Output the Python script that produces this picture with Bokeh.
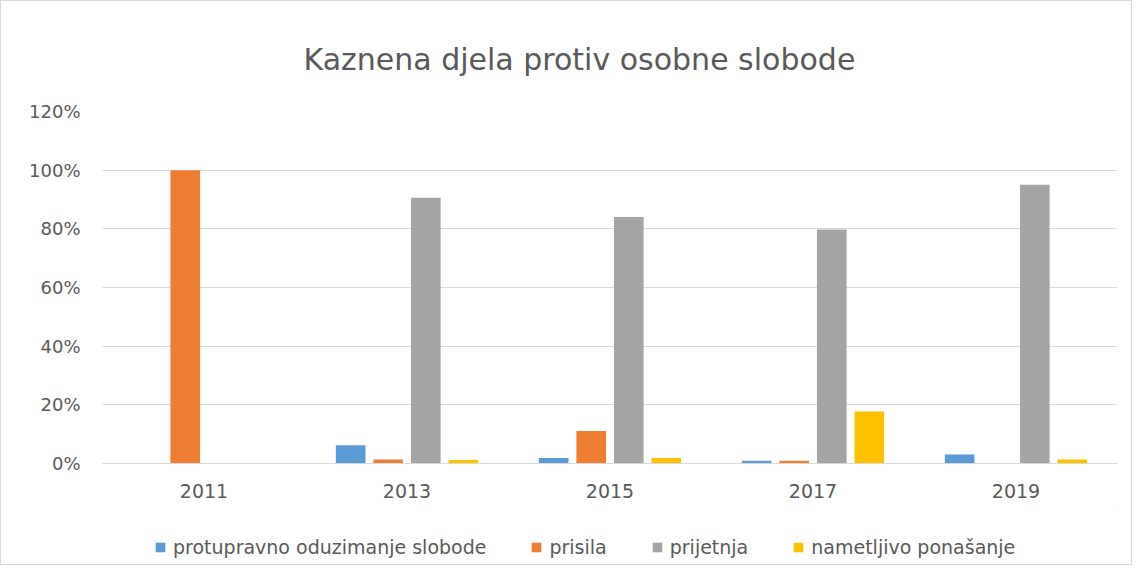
from bokeh.plotting import figure
from bokeh.layouts import column
from bokeh.models import Range1d, FixedTicker, NumeralTickFormatter, Legend, LegendItem, ColumnDataSource
from bokeh.transform import dodge
from bokeh.embed import file_html
from bokeh.resources import INLINE

years = ["2011", "2013", "2015", "2017", "2019"]
series_names = ["protupravno oduzimanje slobode", "prisila", "prijetnja", "nametljivo ponašanje"]
protupravno = [0.0, 0.062, 0.019, 0.009, 0.031]
prisila = [1.0, 0.014, 0.111, 0.009, 0.0]
prijetnja = [0.0, 0.906, 0.840, 0.798, 0.950]
nametljivo = [0.0, 0.012, 0.019, 0.177, 0.014]
colors = ["#5B9BD5", "#ED7D31", "#A5A5A5", "#FFC000"]
y_ticks = [0, 0.2, 0.4, 0.6, 0.8, 1.0, 1.2]

FONT = "DejaVu Sans"
TXT = "#595959"

src = ColumnDataSource(dict(x=years, a=protupravno, b=prisila, c=prijetnja, d=nametljivo))

p = figure(x_range=years, y_range=Range1d(0, 1.2),
           frame_width=1015, frame_height=352,
           output_backend="svg", toolbar_location=None,
           title="Kaznena djela protiv osobne slobode",
           min_border_left=101, min_border_right=14, min_border_top=110, min_border_bottom=45)

p.title.align = "left"
p.title.offset = 201
p.title.text_font = FONT
p.title.text_font_size = "30px"
p.title.text_font_style = "normal"
p.title.text_color = TXT
p.title.standoff = 69

offsets = [-0.2775, -0.0925, 0.0925, 0.2775]
cols = ["a", "b", "c", "d"]
renderers = []
for off, col, color in zip(offsets, cols, colors):
    r = p.vbar(x=dodge("x", off, range=p.x_range), top=col, width=0.146, source=src,
               fill_color=color, line_color=None)
    renderers.append(r)

p.yaxis.ticker = FixedTicker(ticks=y_ticks)
p.yaxis.formatter = NumeralTickFormatter(format="0%")
p.yaxis.axis_line_color = None
p.yaxis.major_tick_line_color = None
p.yaxis.minor_tick_line_color = None
p.yaxis.major_label_text_font = FONT
p.yaxis.major_label_text_font_size = "18px"
p.yaxis.major_label_text_color = TXT
p.yaxis.major_label_standoff = 16

p.xaxis.axis_line_color = "#d9d9d9"
p.xaxis.major_tick_line_color = None
p.xaxis.minor_tick_line_color = None
p.xaxis.major_label_text_font = FONT
p.xaxis.major_label_text_font_size = "19px"
p.xaxis.major_label_text_color = TXT
p.xaxis.major_label_standoff = 14

p.xgrid.grid_line_color = None
p.ygrid.grid_line_color = "#d9d9d9"
p.ygrid.grid_line_width = 1
p.outline_line_color = None

# legend strip below the chart (swatches use off-screen placeholder bars)
p2 = figure(width=1130, height=56, x_range=Range1d(0, 1), y_range=Range1d(0, 1),
            output_backend="svg", toolbar_location=None,
            min_border_left=0, min_border_right=0, min_border_top=0, min_border_bottom=0)
p2.axis.visible = False
p2.grid.grid_line_color = None
p2.outline_line_color = None
leg_renderers = []
for color in colors:
    r = p2.vbar(x=[10], top=[10], bottom=[9], width=0.1, fill_color=color, line_color=None)
    leg_renderers.append(r)

legend = Legend(items=[LegendItem(label=n, renderers=[r]) for n, r in zip(series_names, leg_renderers)],
                orientation="horizontal", location=(52, 6))
legend.label_text_font = FONT
legend.label_text_font_size = "19px"
legend.label_text_color = TXT
legend.glyph_width = 12
legend.glyph_height = 12
legend.label_standoff = 7
legend.spacing = 44
legend.border_line_color = None
legend.background_fill_alpha = 0
legend.margin = 0
legend.padding = 5
p2.add_layout(legend, "center")

layout = column(p, p2, spacing=0)
layout.styles = {"border": "1px solid #d9d9d9"}

open("out.html", "w").write(file_html(layout, INLINE))
